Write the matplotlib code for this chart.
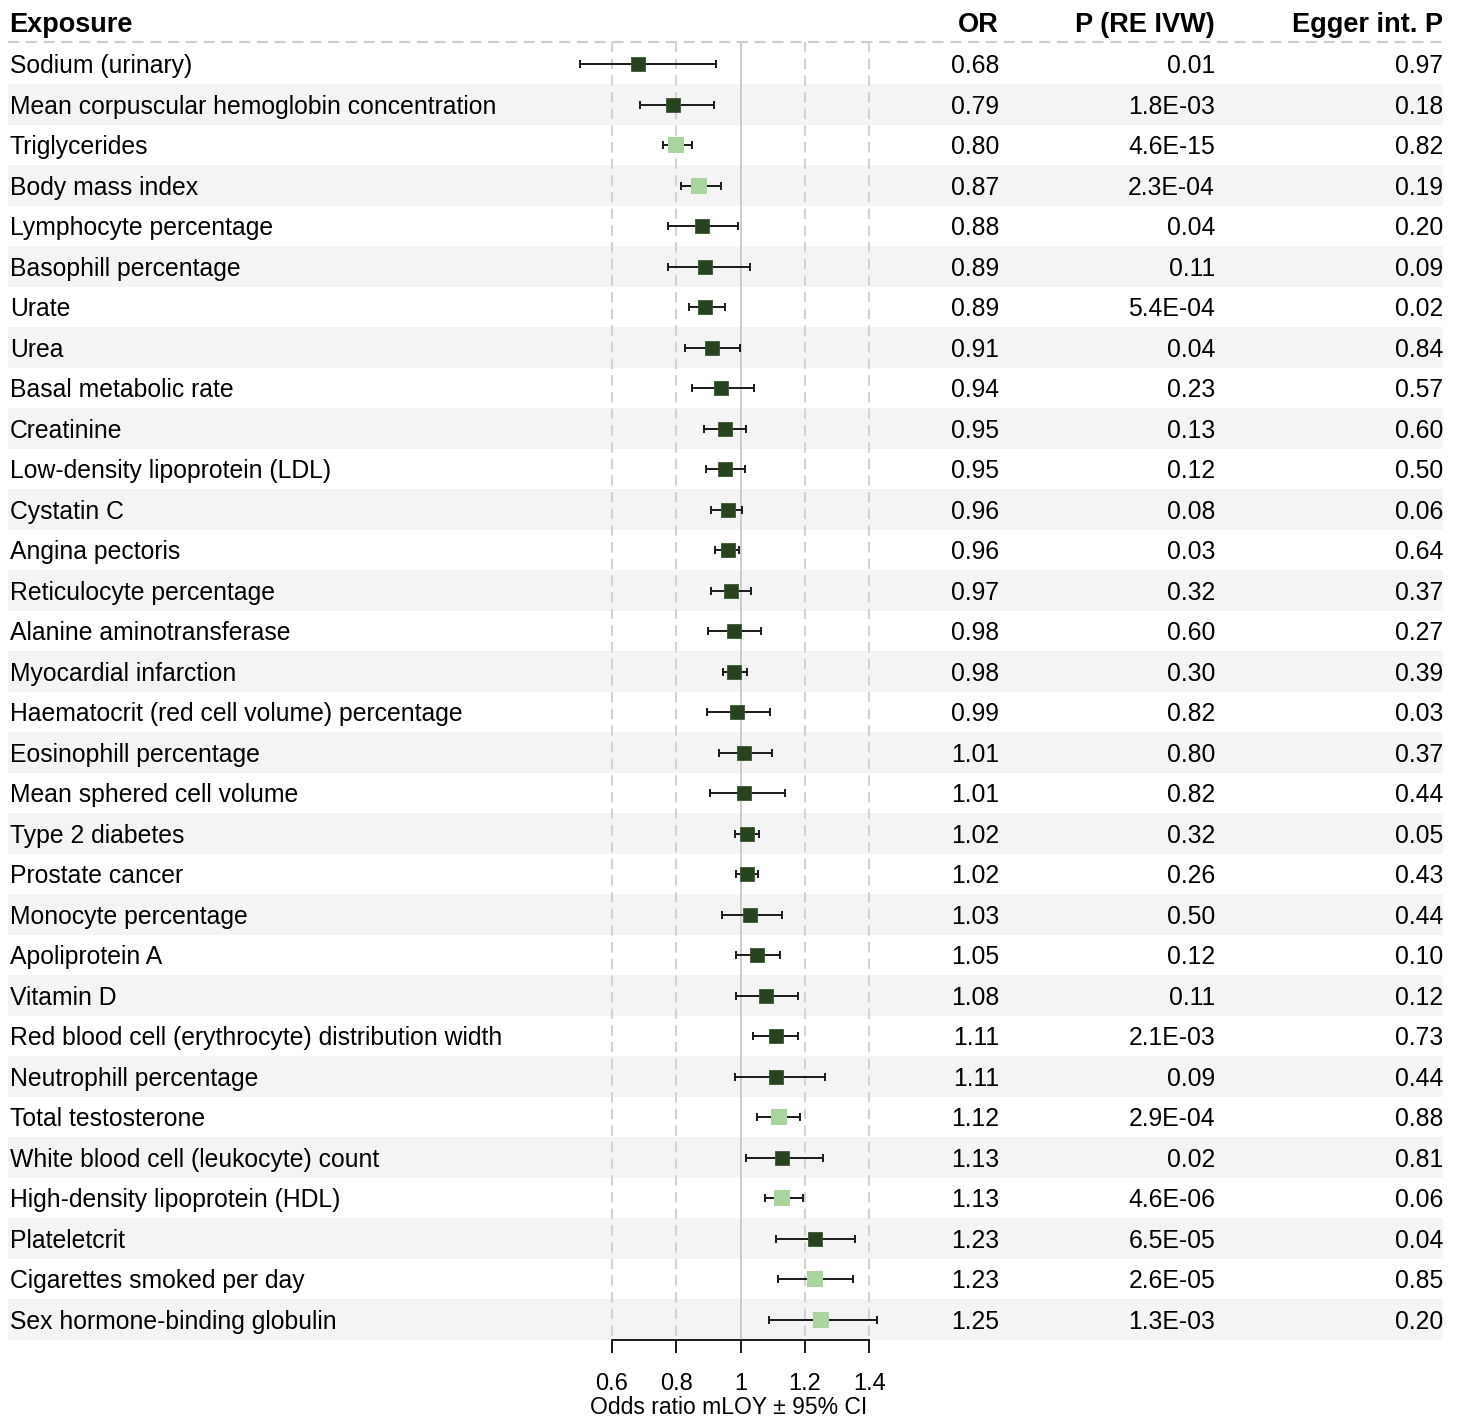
import numpy as np
import matplotlib
matplotlib.use("Agg")
import matplotlib.pyplot as plt
import matplotlib.transforms as mtransforms

plt.rcParams['font.family'] = ['Liberation Sans', 'DejaVu Sans']

# --- data ---
exposures = [
    "Sodium (urinary)",
    "Mean corpuscular hemoglobin concentration",
    "Triglycerides",
    "Body mass index",
    "Lymphocyte percentage",
    "Basophill percentage",
    "Urate",
    "Urea",
    "Basal metabolic rate",
    "Creatinine",
    "Low-density lipoprotein (LDL)",
    "Cystatin C",
    "Angina pectoris",
    "Reticulocyte percentage",
    "Alanine aminotransferase",
    "Myocardial infarction",
    "Haematocrit (red cell volume) percentage",
    "Eosinophill percentage",
    "Mean sphered cell volume",
    "Type 2 diabetes",
    "Prostate cancer",
    "Monocyte percentage",
    "Apoliprotein A",
    "Vitamin D",
    "Red blood cell (erythrocyte) distribution width",
    "Neutrophill percentage",
    "Total testosterone",
    "White blood cell (leukocyte) count",
    "High-density lipoprotein (HDL)",
    "Plateletcrit",
    "Cigarettes smoked per day",
    "Sex hormone-binding globulin",
]
or_vals = [0.68, 0.79, 0.80, 0.87, 0.88, 0.89, 0.89, 0.91, 0.94, 0.95, 0.95,
           0.96, 0.96, 0.97, 0.98, 0.98, 0.99, 1.01, 1.01, 1.02, 1.02, 1.03,
           1.05, 1.08, 1.11, 1.11, 1.12, 1.13, 1.13, 1.23, 1.23, 1.25]
ci_lo = [0.500, 0.686, 0.759, 0.815, 0.773, 0.774, 0.838, 0.828, 0.850, 0.886,
         0.892, 0.909, 0.919, 0.909, 0.898, 0.944, 0.897, 0.933, 0.905, 0.983,
         0.986, 0.943, 0.987, 0.985, 1.038, 0.984, 1.051, 1.017, 1.075, 1.110,
         1.115, 1.089]
ci_hi = [0.922, 0.917, 0.848, 0.940, 0.993, 1.028, 0.952, 0.998, 1.041, 1.018,
         1.014, 1.004, 0.996, 1.032, 1.064, 1.019, 1.091, 1.097, 1.137, 1.056,
         1.053, 1.129, 1.122, 1.179, 1.180, 1.262, 1.184, 1.255, 1.195, 1.357,
         1.351, 1.425]
p_ivw = ["0.01", "1.8E-03", "4.6E-15", "2.3E-04", "0.04", "0.11", "5.4E-04",
         "0.04", "0.23", "0.13", "0.12", "0.08", "0.03", "0.32", "0.60", "0.30",
         "0.82", "0.80", "0.82", "0.32", "0.26", "0.50", "0.12", "0.11",
         "2.1E-03", "0.09", "2.9E-04", "0.02", "4.6E-06", "6.5E-05", "2.6E-05",
         "1.3E-03"]
egger_p = ["0.97", "0.18", "0.82", "0.19", "0.20", "0.09", "0.02", "0.84",
           "0.57", "0.60", "0.50", "0.06", "0.64", "0.37", "0.27", "0.39",
           "0.03", "0.37", "0.44", "0.05", "0.43", "0.44", "0.10", "0.12",
           "0.73", "0.44", "0.88", "0.81", "0.06", "0.04", "0.85", "0.20"]
highlight = [False, False, True, True, False, False, False, False, False,
             False, False, False, False, False, False, False, False, False,
             False, False, False, False, False, False, False, False, True,
             False, True, False, True, True]
xticks = [0.6, 0.8, 1.0, 1.2, 1.4]
xtick_labels = ["0.6", "0.8", "1", "1.2", "1.4"]

DARK = '#27421f'
LIGHT = '#a9d4a0'
BAND = '#f4f4f4'
GRID = '#d2d2d2'

W, H = 1460, 1418
fig = plt.figure(figsize=(W / 100, H / 100), dpi=100)

# one axes over the full width; 0.6 sits at px 612, 321.5 px per OR unit
px_per = 321.5
def px2or(px):
    return 0.6 + (px - 612) / px_per

ax_bottom_px = 1340
ax = fig.add_axes([0, (H - ax_bottom_px) / H, 1, ax_bottom_px / H])
ax.set_xlim(px2or(0), px2or(W))
row_h = 40.5
ax.set_ylim(len(exposures) - 0.5, -64 / row_h)

n = len(exposures)
y = np.arange(n)
left, right = 8 / W, 1443 / W

# row banding
for i in range(1, n, 2):
    ax.axhspan(i - 0.5, i + 0.5, xmin=left, xmax=right, color=BAND, lw=0, zorder=0)

head_line_y = (42 - 64) / row_h
ax.plot([left, right], [head_line_y, head_line_y], transform=ax.get_yaxis_transform(),
        color='#cccccc', lw=1.6, ls=(0, (5, 3)), zorder=1)

# reference lines
for xv in xticks:
    if xv == 1.0:
        ax.vlines(xv, head_line_y, n - 0.5, color='#cccccc', lw=1.4, zorder=1)
    else:
        ax.vlines(xv, head_line_y, n - 0.5, color=GRID, lw=1.5,
                  linestyles=[(0, (5, 3))], zorder=1)

# whiskers
or_arr = np.array(or_vals)
err = np.vstack([or_arr - np.array(ci_lo), np.array(ci_hi) - or_arr])
ax.errorbar(or_arr, y, xerr=err, fmt='none', ecolor='#1a1a1a', elinewidth=1.4,
            capsize=3, capthick=1.4, zorder=2)

hl = np.array(highlight)
ax.plot(or_arr[~hl], y[~hl], 's', color=DARK, markersize=9.6,
        markeredgecolor='#3b5634', markeredgewidth=0.6, zorder=3)
ax.plot(or_arr[hl], y[hl], 's', color=LIGHT, markersize=11.5,
        markeredgewidth=0, zorder=3)

# table text
tr = ax.get_yaxis_transform()
fs = 17.8
txt_off = 2 / row_h
head_y = (25 - 64) / row_h
for xp, s, ha in [(9, "Exposure", 'left'), (999, "OR", 'right'),
                  (1215, "P (RE IVW)", 'right'), (1443, "Egger int. P", 'right')]:
    ax.text(xp / W, head_y, s, transform=tr, fontsize=19.5,
            fontweight='bold', ha=ha, va='center')
for i in range(n):
    yt = i + txt_off
    ax.text(10 / W, yt, exposures[i], transform=tr, fontsize=fs, ha='left', va='center')
    ax.text(999 / W, yt, f"{or_vals[i]:.2f}", transform=tr, fontsize=fs,
            ha='right', va='center')
    ax.text(1215 / W, yt, p_ivw[i], transform=tr, fontsize=fs, ha='right', va='center')
    ax.text(1443 / W, yt, egger_p[i], transform=tr, fontsize=fs, ha='right', va='center')

# axis styling
for s in ['top', 'left', 'right']:
    ax.spines[s].set_visible(False)
ax.spines['bottom'].set_bounds(xticks[0], xticks[-1])
ax.spines['bottom'].set_linewidth(1.4)
ax.spines['bottom'].set_color('#1a1a1a')
ax.set_yticks([])
ax.set_xticks(xticks)
ax.set_xticklabels(xtick_labels, fontsize=17)
ax.tick_params(axis='x', direction='out', length=9.5, width=1.4, pad=14,
               color='#1a1a1a')

# axis title centred on the data extent, at px 1407 from the top
mid = (min(ci_lo) + max(ci_hi)) / 2
lab_tr = mtransforms.blended_transform_factory(ax.transData, fig.transFigure)
ax.text(mid, (H - 1408) / H, "Odds ratio mLOY \u00b1 95% CI", transform=lab_tr,
        fontsize=16.5, ha='center', va='center')

fig.savefig("out.png", dpi=100)
